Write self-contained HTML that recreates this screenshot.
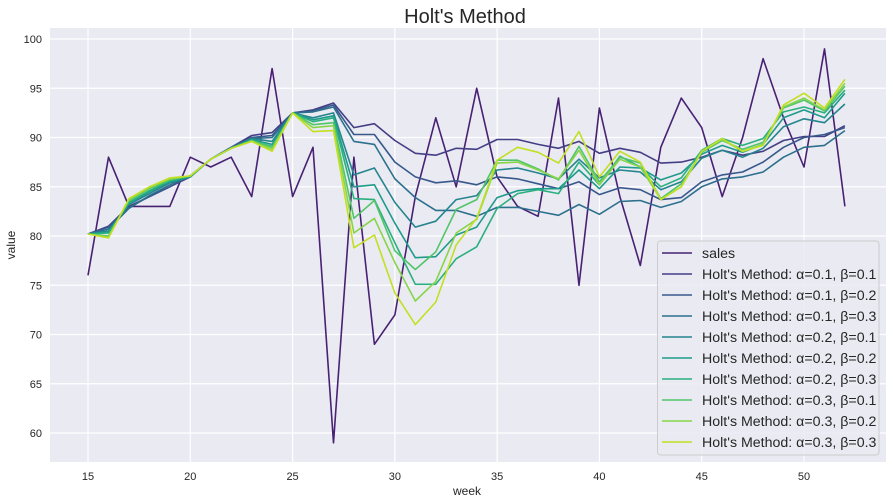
<!DOCTYPE html>
<html><head><meta charset="utf-8"><style>
body{margin:0;background:#fff;}
svg{display:block;font-family:"Liberation Sans",Arial,sans-serif;}
</style></head><body>
<svg id="chart" width="893" height="503">
<rect x="50" y="28" width="836" height="434" fill="#eaeaf2"/>
<g id="grid"></g>
<g id="lines"></g>
<text x="465" y="23" text-anchor="middle" font-size="20" fill="#262626">Holt's Method</text>
<text x="467" y="495" text-anchor="middle" font-size="12" fill="#262626">week</text>
<text x="15" y="245" text-anchor="middle" font-size="12" fill="#262626" transform="rotate(-90 15 245)">value</text>
<g id="legend"></g>
</svg>
<script>
const weeks = [15,16,17,18,19,20,21,22,23,24,25,26,27,28,29,30,31,32,33,34,35,36,37,38,39,40,41,42,43,44,45,46,47,48,49,50,51,52];
const sales = [76,88,83,83,83,88,87,88,84,97,84,89,59,88,69,72,84,92,85,95,86,83,82,94,75,93,84,77,89,94,91,84,90,98,92,87,99,83];
const holtA1B1 = [80.2,81.0,83.0,84.0,85.0,86.0,87.8,89.0,90.2,90.5,92.5,92.8,93.5,91.0,91.4,89.7,88.4,88.2,88.9,88.8,89.8,89.8,89.3,88.9,89.6,88.4,88.9,88.5,87.4,87.5,88.0,88.7,88.2,88.6,89.7,90.1,90.1,91.2];
const holtA1B2 = [80.2,80.9,82.9,84.0,85.0,86.1,87.8,89.0,90.0,90.2,92.5,92.7,93.3,90.3,90.3,87.5,86.0,85.4,85.6,85.2,86.0,85.8,85.3,84.8,85.5,84.2,84.9,84.7,83.7,83.9,85.5,86.2,86.5,87.5,89.0,90.0,90.3,91.0];
const holtA1B3 = [80.2,80.7,82.8,84.1,85.2,86.1,87.8,89.0,89.9,90.0,92.5,92.6,93.1,89.6,89.3,85.8,83.9,82.6,82.6,82.0,82.9,82.9,82.5,82.1,83.2,82.2,83.5,83.6,82.9,83.5,85.0,85.8,86.0,86.5,88.0,89.0,89.2,90.7];
const holtA2B1 = [80.2,80.5,83.2,84.3,85.4,86.0,87.8,88.9,89.9,89.6,92.5,92.0,92.5,86.2,86.9,83.4,80.9,81.5,83.7,84.1,86.7,86.9,86.4,85.8,87.8,85.9,86.7,86.5,84.7,85.5,87.9,88.7,88.0,88.9,91.1,91.9,91.5,93.4];
const holtA2B2 = [80.2,80.4,83.3,84.5,85.5,86.0,87.8,88.9,89.8,89.3,92.5,91.8,92.2,85.0,85.2,81.3,77.8,77.9,80.1,80.9,83.9,84.6,84.8,84.8,86.7,84.8,87.0,86.9,85.7,86.4,88.3,89.2,88.5,89.3,92.0,92.8,92.0,94.5];
const holtA2B3 = [80.2,80.3,83.4,84.6,85.6,86.1,87.8,88.9,89.7,89.1,92.5,91.6,92.0,83.8,83.7,79.3,75.1,75.1,77.7,78.9,82.8,84.3,84.7,84.3,87.5,85.2,88.1,87.0,85.0,85.9,88.7,89.9,89.2,89.9,92.6,93.1,92.5,94.8];
const holtA3B1 = [80.2,80.0,83.6,84.8,85.7,86.1,87.8,88.9,89.7,89.0,92.5,91.3,91.5,81.8,83.6,78.5,76.6,78.4,82.7,83.7,87.7,87.7,86.8,85.7,89.1,85.5,88.0,87.4,83.8,85.3,88.5,89.7,88.8,89.5,93.0,93.8,92.7,95.2];
const holtA3B2 = [80.2,79.9,83.7,84.9,85.8,86.1,87.8,88.9,89.6,88.8,92.5,91.0,91.2,80.3,81.8,77.3,73.4,75.4,80.3,81.7,87.4,87.5,86.7,85.8,88.7,85.2,87.8,87.0,83.7,85.0,88.6,89.8,88.6,89.3,93.1,94.0,92.8,95.5];
const holtA3B3 = [80.2,79.8,83.8,85.0,85.9,86.1,87.8,88.9,89.6,88.6,92.5,90.6,90.7,78.8,80.1,74.2,71.0,73.3,79.1,81.8,87.7,89.0,88.5,87.4,90.6,86.0,88.6,87.5,83.7,85.0,88.6,89.9,88.6,89.2,93.3,94.5,93.0,95.9];
const seriesLabels = ["sales","Holt's Method: α=0.1, β=0.1","Holt's Method: α=0.1, β=0.2","Holt's Method: α=0.1, β=0.3","Holt's Method: α=0.2, β=0.1","Holt's Method: α=0.2, β=0.2","Holt's Method: α=0.2, β=0.3","Holt's Method: α=0.3, β=0.1","Holt's Method: α=0.3, β=0.2","Holt's Method: α=0.3, β=0.3"];
const xTicks = [15,20,25,30,35,40,45,50];
const yTicks = [60,65,70,75,80,85,90,95,100];

const allSeries = [sales,holtA1B1,holtA1B2,holtA1B3,holtA2B1,holtA2B2,holtA2B3,holtA3B1,holtA3B2,holtA3B3];
const colors = ["#482173","#433e85","#38588c","#2d708e","#25858e","#1e9b8a","#2ab07f","#52c569","#86d549","#c2df23"];
const NS = "http://www.w3.org/2000/svg";
function xs(w){return 88 + (w-15)*20.457;}
function ys(v){return 39 + (100-v)*9.85;}
function mk(tag, attrs, parent){const e=document.createElementNS(NS,tag);for(const k in attrs)e.setAttribute(k,attrs[k]);parent.appendChild(e);return e;}
const grid=document.getElementById('grid'), svg=document.getElementById('chart');
xTicks.forEach(t=>{
  const l=mk('line',{x1:xs(t),x2:xs(t),y1:28,y2:462,stroke:'#fff','stroke-width':1.2},grid);
  
  
  const tx=mk('text',{x:xs(t),y:480,'text-anchor':'middle','font-size':11,fill:'#262626'},svg);
  tx.textContent=t;
  
  
});
yTicks.forEach(t=>{
  const l=mk('line',{x1:50,x2:886,y1:ys(t),y2:ys(t),stroke:'#fff','stroke-width':1.2},grid);
  
  
  const tx=mk('text',{x:42,y:ys(t)+4,'text-anchor':'end','font-size':11,fill:'#262626'},svg);
  tx.textContent=t;
  
  
});
const lines=document.getElementById('lines');
allSeries.forEach((s,i)=>{
  const d=s.map((v,j)=>(j?'L':'M')+xs(weeks[j]).toFixed(1)+','+ys(v).toFixed(1)).join('');
  const p=mk('path',{d:d,fill:'none',stroke:colors[i],'stroke-width':1.6,'stroke-linejoin':'round'},lines);
  
  
});
const lg=document.getElementById('legend');


mk('rect',{x:657.5,y:241,width:221.5,height:214,rx:3,fill:'#eaeaf2','fill-opacity':0.85,stroke:'#cccccc'},lg);
seriesLabels.forEach((lab,i)=>{
  const y=253+i*21;
  const g=mk('g',{},lg);
  
  
  mk('line',{x1:662,x2:692,y1:y,y2:y,stroke:colors[i],'stroke-width':1.6},g);
  const t=mk('text',{x:702,y:y+5,'font-size':14.2,fill:'#262626'},g);
  t.textContent=lab;
});
</script>
</body></html>
